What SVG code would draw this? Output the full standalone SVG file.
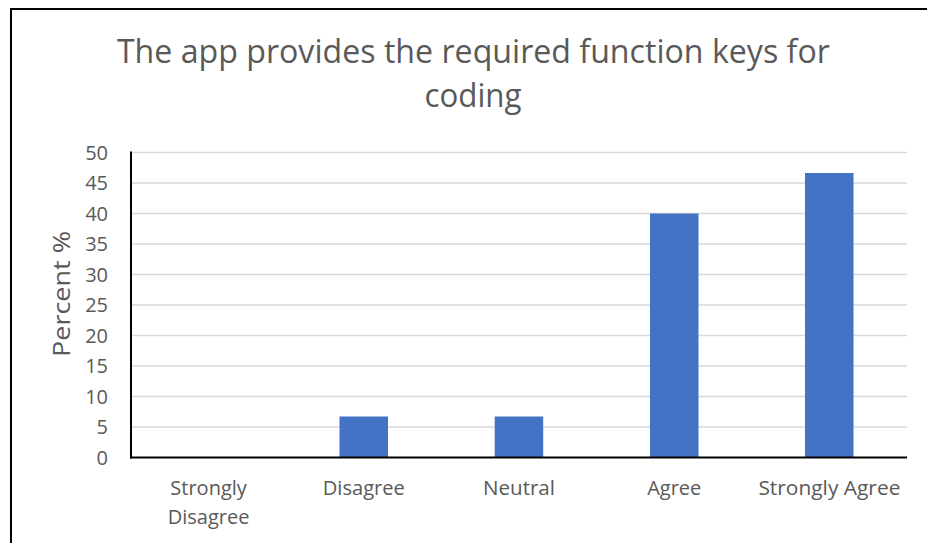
<svg xmlns="http://www.w3.org/2000/svg" width="927" height="543" viewBox="0 0 927 543">
<style>
.t{font-family:"Open Sans","Liberation Sans",sans-serif;fill:#595959}
.title{font-size:32px}
.tick{font-size:20px;text-anchor:end}
.cat{font-size:20px;text-anchor:middle}
.grid{stroke:#d9d9d9;stroke-width:1.5}
.bar{fill:#4472c4}
</style>
<rect x="0" y="0" width="927" height="543" fill="#fff"/>
<rect x="11" y="9" width="930" height="550" fill="none" stroke="#000" stroke-width="2"/>
<g id="title">
<text class="t title" x="473.4" y="63.3" text-anchor="middle" textLength="713" lengthAdjust="spacingAndGlyphs">The app provides the required function keys for</text>
<text class="t title" x="473" y="106.7" text-anchor="middle" textLength="97" lengthAdjust="spacingAndGlyphs">coding</text>
</g>
<g id="gridlines">
<line class="grid" x1="131" y1="152.5" x2="907" y2="152.5"/>
<line class="grid" x1="131" y1="183" x2="907" y2="183"/>
<line class="grid" x1="131" y1="213.5" x2="907" y2="213.5"/>
<line class="grid" x1="131" y1="244" x2="907" y2="244"/>
<line class="grid" x1="131" y1="274.5" x2="907" y2="274.5"/>
<line class="grid" x1="131" y1="305" x2="907" y2="305"/>
<line class="grid" x1="131" y1="335.5" x2="907" y2="335.5"/>
<line class="grid" x1="131" y1="366" x2="907" y2="366"/>
<line class="grid" x1="131" y1="396.5" x2="907" y2="396.5"/>
<line class="grid" x1="131" y1="427" x2="907" y2="427"/>
</g>
<g id="bars">
<rect id="bar-disagree" class="bar" x="339.5" y="416.5" width="48.5" height="41"/>
<rect id="bar-neutral" class="bar" x="494.7" y="416.5" width="48.5" height="41"/>
<rect id="bar-agree" class="bar" x="650" y="213.5" width="48.5" height="244"/>
<rect id="bar-strongly-agree" class="bar" x="805" y="173" width="48.5" height="284.5"/>
</g>
<g id="axes">
<line x1="131" y1="151.5" x2="131" y2="458.5" stroke="#000" stroke-width="2"/>
<line x1="130" y1="457.5" x2="907" y2="457.5" stroke="#000" stroke-width="2"/>
</g>
<g id="y-ticks">
<text class="t tick" x="108" y="159.5">50</text>
<text class="t tick" x="108" y="190">45</text>
<text class="t tick" x="108" y="220.5">40</text>
<text class="t tick" x="108" y="251">35</text>
<text class="t tick" x="108" y="281.5">30</text>
<text class="t tick" x="108" y="312">25</text>
<text class="t tick" x="108" y="342.5">20</text>
<text class="t tick" x="108" y="373">15</text>
<text class="t tick" x="108" y="403.5">10</text>
<text class="t tick" x="108" y="434">5</text>
<text class="t tick" x="108" y="464.5">0</text>
</g>
<g id="y-label">
<text class="t" font-size="24" text-anchor="middle" textLength="126" lengthAdjust="spacingAndGlyphs" transform="translate(69.5,294) rotate(-90)">Percent %</text>
</g>
<g id="x-labels">
<text class="t cat" x="208.6" y="495">Strongly</text>
<text class="t cat" x="208.6" y="524.3">Disagree</text>
<text class="t cat" x="363.8" y="495" textLength="82" lengthAdjust="spacingAndGlyphs">Disagree</text>
<text class="t cat" x="519" y="495" textLength="72" lengthAdjust="spacingAndGlyphs">Neutral</text>
<text class="t cat" x="674.2" y="495">Agree</text>
<text class="t cat" x="829.4" y="495" textLength="142" lengthAdjust="spacingAndGlyphs">Strongly Agree</text>
</g>
</svg>
